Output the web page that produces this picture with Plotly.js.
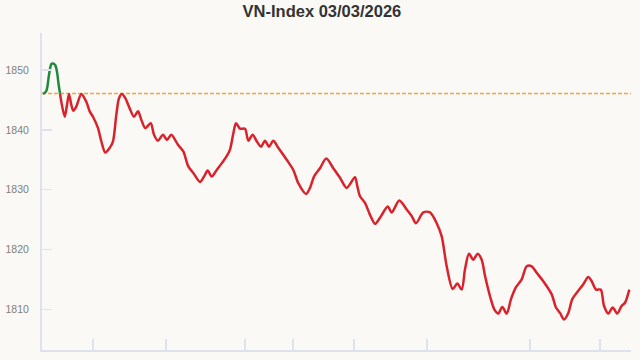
<!DOCTYPE html>
<html>
<head>
<meta charset="utf-8">
<script src="https://cdn.plot.ly/plotly-3.0.1.min.js"></script>
<style>html,body{margin:0;padding:0;background:#faf9f5;}#chart{width:640px;height:360px;}</style>
</head>
<body>
<div id="chart"></div>
<script>
const titleText = "VN-Index 03/03/2026";
const refValue = 1846.1;

// session time index (green part: above reference)
const upT = [0, 3.3, 6, 8.3, 10, 12.3, 14, 15.7, 17];
const upV = [1846.0, 1846.5, 1849.2, 1851.0, 1851.1, 1850.8, 1849.7, 1847.5, 1846.1];

// red part: below reference
const downT = [17, 18.3, 21.7, 24, 26, 28.3, 30.3, 33.3, 38.3, 43.3, 46.7, 50, 55, 58.3, 62.3, 66.7, 70, 73.3, 76, 79,
  82.3, 86.7, 91, 95, 98.3, 102.3, 107.7, 111, 115, 120, 124, 128.3, 135, 140.3, 145.3, 150.3, 157, 161, 164.7, 168.7,
  173.7, 178.7, 183.7, 187, 190.3, 193, 197, 202, 205.3, 209.7, 213.7, 218, 222, 226, 230.3, 235.3, 243.7, 250.3, 255.3, 263,
  267, 271, 277, 283.3, 290.3, 297, 303.7, 312, 314.3, 317, 322, 327, 332, 337, 344.7, 348.7, 356.3, 363.7, 368.7, 373,
  380.3, 387, 393.7, 398.7, 403.7, 409.7, 414.3, 418.7, 422, 426, 430.3, 434.7, 438.7, 442, 447, 451.3, 455.3, 459.3, 463.7, 468,
  473, 478.7, 483.7, 488.7, 493.7, 500.3, 508.7, 513, 517, 521, 525.3, 529.3, 535.3, 540.3, 545.3, 548.7, 553, 557.7,
  561, 565.3, 569.7, 574.3, 578.7, 582, 586.3];
const downV = [1846.1, 1844.7, 1842.2, 1844.2, 1846.0, 1844.2, 1843.2, 1843.9, 1846.0, 1844.7, 1843.1, 1842.2, 1840.3, 1838.1, 1836.2, 1837.0, 1838.1, 1842.5, 1845.3, 1846.0,
  1845.3, 1843.6, 1842.2, 1843.1, 1841.7, 1840.3, 1841.1, 1839.2, 1838.2, 1839.2, 1838.3, 1839.2, 1837.5, 1836.4, 1833.9, 1832.8, 1831.3, 1832.2, 1833.2, 1832.2,
  1833.3, 1834.4, 1835.6, 1836.7, 1839.4, 1841.1, 1840.2, 1840.2, 1838.2, 1839.2, 1838.1, 1837.2, 1838.2, 1837.2, 1838.2, 1837.0, 1835.0, 1833.3, 1831.1, 1829.3,
  1830.3, 1832.2, 1833.6, 1835.2, 1833.6, 1832.0, 1830.3, 1832.1, 1830.6, 1828.9, 1827.8, 1825.8, 1824.3, 1825.3, 1827.2, 1826.2, 1828.2, 1826.7, 1825.6, 1824.4,
  1826.2, 1826.2, 1824.4, 1822.2, 1817.2, 1813.4, 1814.3, 1813.3, 1816.7, 1819.3, 1818.3, 1819.3, 1818.3, 1815.6, 1812.2, 1810.0, 1809.3, 1810.4, 1809.3, 1811.7,
  1813.7, 1815.0, 1817.2, 1817.2, 1816.1, 1814.7, 1812.5, 1810.3, 1809.4, 1808.3, 1809.4, 1811.7, 1813.1, 1814.2, 1815.4, 1814.7, 1813.3, 1813.3,
  1810.6, 1809.3, 1810.3, 1809.3, 1810.6, 1811.1, 1813.3];

const xTicks = [50, 123, 202, 250, 311, 384, 487, 557];
const yTicks = [1810, 1820, 1830, 1840, 1850];

const axisColor = "#dde2ee";

const traces = [
  {x: downT, y: downV, type: "scatter", mode: "lines", hoverinfo: "skip",
   line: {color: "#d8232d", width: 2.5, shape: "spline", smoothing: 0.8}},
  {x: upT, y: upV, type: "scatter", mode: "lines", hoverinfo: "skip",
   line: {color: "#1f8a3b", width: 2.5, shape: "spline", smoothing: 0.8}}
];

const layout = {
  width: 640, height: 360,
  paper_bgcolor: "#faf9f5", plot_bgcolor: "#faf9f5",
  margin: {l: 42, r: 9, t: 33, b: 10},
  showlegend: false,
  title: {text: "<b>" + titleText + "</b>", x: 0.503, xanchor: "center", y: 0.97, yanchor: "middle", yref: "container",
    font: {family: "Liberation Sans, Arial, sans-serif", size: 16.5, color: "#333333"}},
  xaxis: {range: [-1, 588], showgrid: false, zeroline: false, showline: true, linecolor: axisColor, linewidth: 2,
    tickmode: "array", tickvals: xTicks, ticks: "inside", ticklen: 11, tickcolor: axisColor, tickwidth: 1.5,
    showticklabels: false, fixedrange: true},
  yaxis: {range: [1803.2, 1856.2], showgrid: false, zeroline: false, showline: true, linecolor: axisColor, linewidth: 2,
    tickmode: "array", tickvals: yTicks, ticktext: yTicks.map(String), ticks: "inside", ticklen: 10, tickcolor: axisColor, tickwidth: 1.5,
    ticklabelstandoff: 9,
    tickfont: {family: "Liberation Sans, Arial, sans-serif", size: 10.5, color: "#808080"}, fixedrange: true},
  shapes: [
    {type: "line", xref: "paper", x0: 0, x1: 1, yref: "y", y0: refValue, y1: refValue,
     line: {color: "#f5a63a", width: 1.5, dash: "4px,2px"}, layer: "below"}
  ]
};

Plotly.newPlot("chart", traces, layout, {displayModeBar: false, staticPlot: true});
</script>
</body>
</html>
